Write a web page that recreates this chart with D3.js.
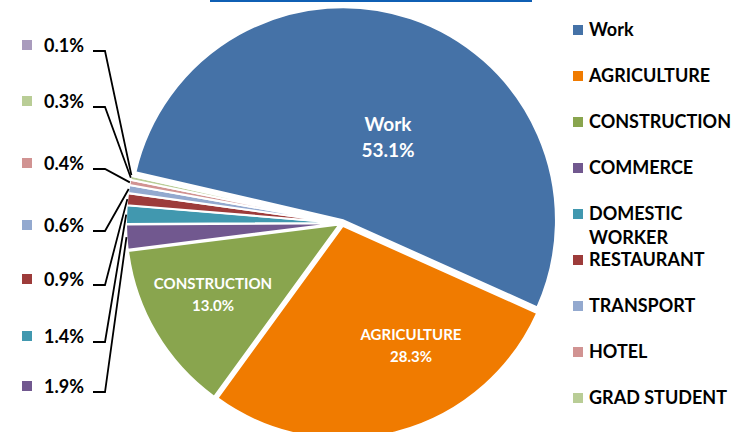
<!DOCTYPE html>
<html>
<head>
<meta charset="utf-8">
<script src="https://cdn.jsdelivr.net/npm/d3@7"></script>
<style>
  body { margin: 0; background: #fff; }
  svg { display: block; font-family: Lato, "Open Sans", sans-serif; font-weight: bold; }
</style>
</head>
<body>
<svg id="pie_svg" width="732" height="432"></svg>
<script>
// chart data
const categories = ['Work', 'AGRICULTURE', 'CONSTRUCTION', 'COMMERCE', 'DOMESTIC WORKER',
    'RESTAURANT', 'TRANSPORT', 'HOTEL', 'GRAD STUDENT', 'OTHER'];
const shares = [53.1, 28.3, 13.0, 1.9, 1.4, 0.9, 0.6, 0.4, 0.3, 0.1];
const colors = ['#4572A7', '#F07B00', '#89A54E', '#71588F', '#4198AF',
    '#9D3B3A', '#93A9CF', '#D19392', '#B9CD96', '#A99BBD'];
const legendLines = [['Work'], ['AGRICULTURE'], ['CONSTRUCTION'], ['COMMERCE'], ['DOMESTIC', 'WORKER'],
    ['RESTAURANT'], ['TRANSPORT'], ['HOTEL'], ['GRAD STUDENT']];

const data = categories.map((c, i) => ({ name: c, value: shares[i], color: colors[i] }));

/**
 * Layout
 */
const svg = d3.select('#pie_svg');
const cx = 342, cy = 223, radius = 213, explode = 3;
const startAngle = -77 * Math.PI / 180;

// blue underline of the (cut off) title
svg.append('rect')
    .attr('x', 210).attr('y', 0)
    .attr('width', 322).attr('height', 2)
    .attr('fill', '#0F5FB4');

const pie = d3.pie()
    .sort(null)
    .value((d) => d.value)
    .startAngle(startAngle)
    .endAngle(startAngle + 2 * Math.PI);

const arc = d3.arc().innerRadius(0).outerRadius(radius);
const arcs = pie(data);

const offset = (d, k) => {
    const a = (d.startAngle + d.endAngle) / 2;
    return [Math.sin(a) * k, -Math.cos(a) * k];
};

const g_pie = svg.append('g').attr('transform', `translate(${cx},${cy})`);

g_pie.selectAll('.slice')
    .data(arcs)
    .enter()
    .append('path')
    .attr('class', 'slice')
    .attr('d', arc)
    .attr('fill', (d) => d.data.color)
    .attr('stroke', '#fff')
    .attr('stroke-width', 2)
    .attr('transform', (d) => 'translate(' + offset(d, explode) + ')');

/**
 * Labels inside the big slices (positions)
 */
const insideLabels = [
    { i: 0, x: 388, y: 131, size: 19, gap: 26 },
    { i: 1, x: 411, y: 340, size: 15, gap: 22 },
    { i: 2, x: 213, y: 289, size: 15, gap: 22 },
];

insideLabels.forEach((l) => {
    const d = data[l.i];
    const t = svg.append('text')
        .attr('text-anchor', 'middle')
        .attr('fill', '#fff')
        .attr('font-size', l.size);
    t.append('tspan').attr('x', l.x).attr('y', l.y).text(d.name);
    t.append('tspan').attr('x', l.x).attr('y', l.y + l.gap).text(d.value.toFixed(1) + '%');
});

/**
 * Small slices: labels on the left with leader lines
 */
const smallIdx = [9, 8, 7, 6, 5, 4, 3];
const smallLabelY = [52, 108, 170, 232, 286, 343, 393];

const g_small = svg.append('g');
smallIdx.forEach((idx, k) => {
    const d = arcs[idx];
    const y = smallLabelY[k];
    const mid = offset(d, radius + explode);
    g_small.append('rect')
        .attr('x', 22).attr('y', y - 12)
        .attr('width', 10).attr('height', 10)
        .attr('fill', d.data.color);
    g_small.append('text')
        .attr('x', 44).attr('y', y)
        .attr('font-size', 18)
        .attr('fill', '#000')
        .text(d.data.value.toFixed(1) + '%');
    g_small.append('polyline')
        .attr('points', [[93, y - 1], [105, y - 1], [cx + mid[0], cy + mid[1]]].map((p) => p.join(',')).join(' '))
        .attr('fill', 'none')
        .attr('stroke', '#000')
        .attr('stroke-width', 1.8);
});

/**
 * Legend
 */
const g_legend = svg.append('g');
legendLines.forEach((lines, i) => {
    const y = 36 + 46 * i;
    g_legend.append('rect')
        .attr('x', 573).attr('y', y - 11)
        .attr('width', 10).attr('height', 10)
        .attr('fill', colors[i]);
    const t = g_legend.append('text')
        .attr('font-size', 18)
        .attr('fill', '#000');
    lines.forEach((s, j) => {
        t.append('tspan').attr('x', 589).attr('y', y + j * 24).text(s);
    });
});
</script>
</body>
</html>
